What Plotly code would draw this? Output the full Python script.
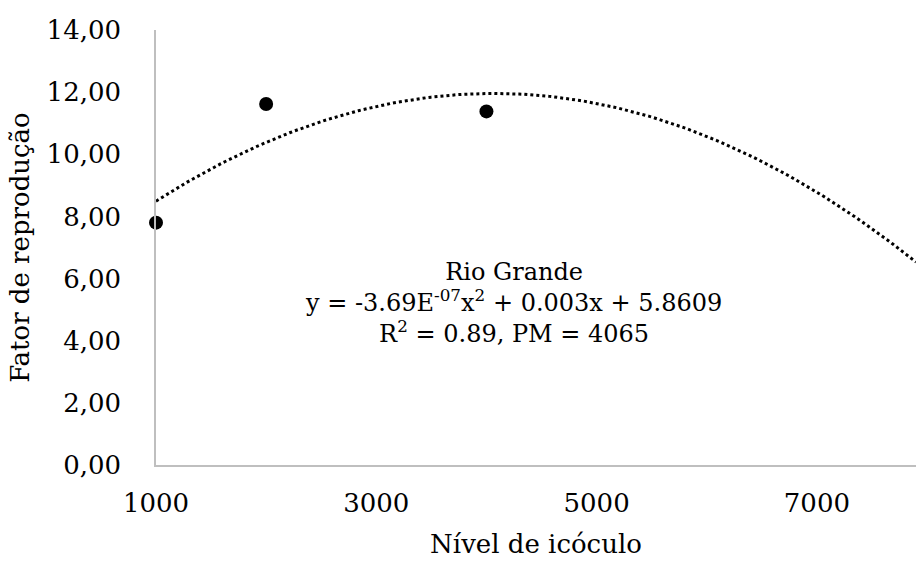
import plotly.graph_objects as go
import numpy as np

# Data
inoculum = [1000, 2000, 4000]
reproduction = [7.80, 11.62, 11.38]

# Trendline coefficients (as shown on chart)
coef_a = -3.69e-07
coef_b = 0.003
coef_c = 5.8609

x_min, x_max = 1000, 7900
x_ticks = [1000, 3000, 5000, 7000]
y_ticks = [0, 2, 4, 6, 8, 10, 12, 14]

xt = np.linspace(x_min, x_max, 200)
yt = coef_a * xt**2 + coef_b * xt + coef_c

FONT = "DejaVu Serif"
FS = 26

fig = go.Figure()
fig.add_trace(go.Scatter(x=xt, y=yt, mode="lines",
                         line=dict(color="black", width=3, dash="dot"),
                         hoverinfo="skip", showlegend=False))
fig.add_trace(go.Scatter(x=inoculum, y=reproduction, mode="markers",
                         marker=dict(color="black", size=14),
                         showlegend=False, cliponaxis=False))

label_text = ("Rio Grande<br>"
              "y = -3.69E<sup>-07</sup>x<sup>2</sup> + 0.003x + 5.8609<br>"
              "R<sup>2</sup> = 0.89, PM = 4065")
fig.add_annotation(x=0.471, y=0.372, xref="paper", yref="paper", text=label_text,
                   showarrow=False, align="center", yanchor="middle",
                   font=dict(family=FONT, size=24, color="black"))

fig.update_layout(
    width=916, height=565,
    margin=dict(l=156, r=0, t=30, b=100),
    paper_bgcolor="white", plot_bgcolor="white",
    separators=",.",
    font=dict(family=FONT, size=FS, color="black"),
    xaxis=dict(range=[x_min, x_max], tickvals=x_ticks, ticktext=[str(v) for v in x_ticks],
               showgrid=False, zeroline=False, showline=True, linecolor="#BFBFBF", linewidth=1.5,
               ticks="", ticklabelstandoff=14,
               title=dict(text="Nível de icóculo", standoff=18, font=dict(family=FONT, size=FS)),
               tickfont=dict(size=FS)),
    yaxis=dict(range=[0, 14], tickvals=y_ticks, tickformat=".2f",
               showgrid=False, zeroline=False, showline=True, linecolor="#BFBFBF", linewidth=1.5,
               ticks="", ticklabelstandoff=28,
               title=dict(text="Fator de reprodução", standoff=10, font=dict(family=FONT, size=FS)),
               tickfont=dict(size=FS)),
)

fig.write_html("out.html")
